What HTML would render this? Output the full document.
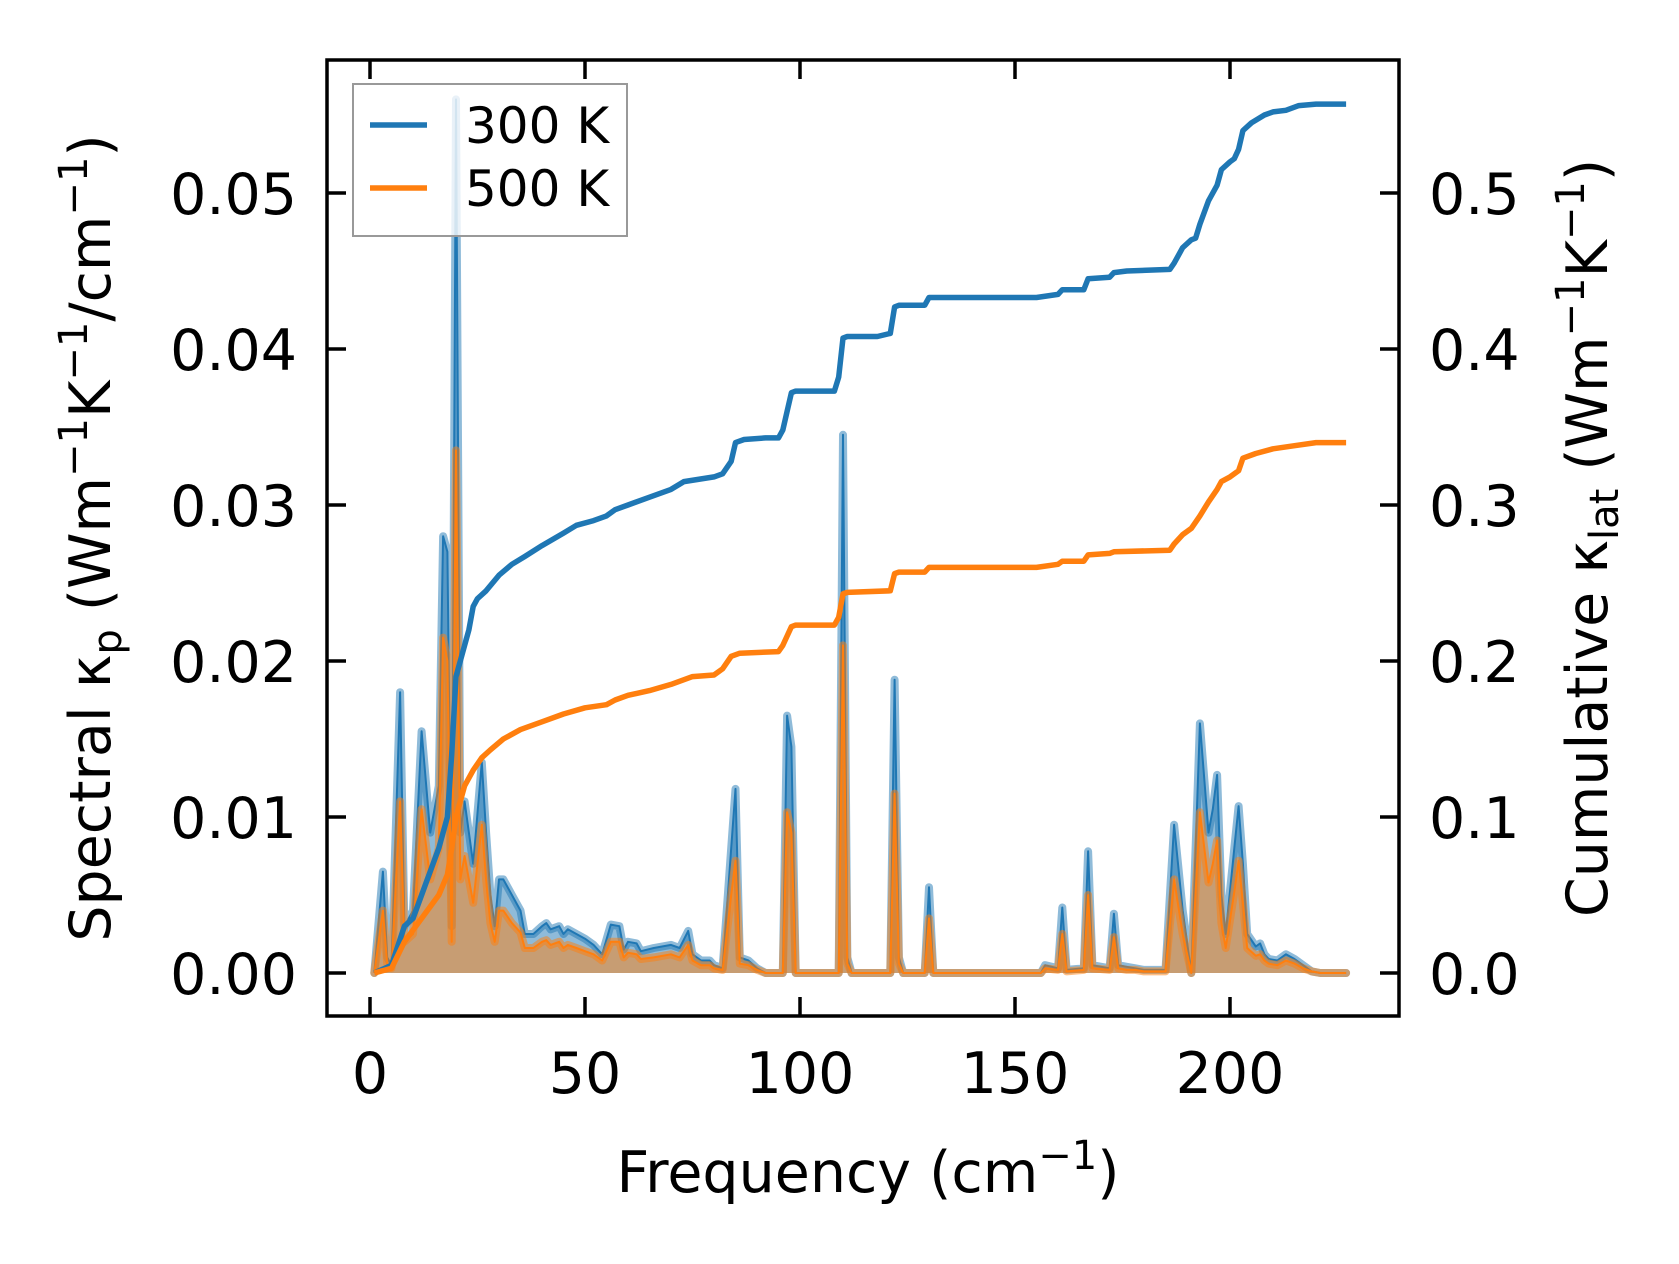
<!DOCTYPE html>
<html><head><meta charset="utf-8"><style>
html,body{margin:0;padding:0;background:#fff;}
svg{display:block;font-family:"DejaVu Sans","Liberation Sans",sans-serif;}
</style></head><body>
<svg id="chart" width="1679" height="1264" viewBox="0 0 1679 1264" xmlns="http://www.w3.org/2000/svg"></svg>
<script>
const specFreq300 = [1,3,4,5,7,8,10,12,14,16,17,18,19,20,21,22,23,24,26,27,28,29,30,31,33,35,36,38,40,41,42,44,45,46,48,50,52,54,56,58,59,60,62,63,66,70,72,74,75,77,79,80,82,84,85,86,88,90,92,96,97,98,99,109,110,111,112,121,122,123,124,129,130,131,156,157,160,161,162,166,167,168,172,173,174,176,178,180,185,187,189,191,193,195,196,197,198,199,201,202,203,204,206,207,208,209,211,213,215,217,219,221,227];
const spec300 = [0,0.0065,0.001,0.0005,0.018,0.003,0.004,0.0155,0.009,0.012,0.028,0.027,0.003,0.056,0.009,0.011,0.009,0.007,0.0135,0.009,0.005,0.003,0.006,0.006,0.005,0.004,0.0025,0.0025,0.003,0.0032,0.0028,0.003,0.0025,0.0028,0.0025,0.0022,0.0018,0.0012,0.0031,0.003,0.0015,0.002,0.0019,0.0014,0.0016,0.0018,0.0016,0.0027,0.0012,0.0008,0.0008,0.0005,0.0003,0.008,0.0118,0.001,0.0008,0.0003,0,0,0.0165,0.0145,0,0,0.0345,0.001,0,0,0.0188,0.001,0,0,0.0055,0,0,0.0005,0.0003,0.0042,0.0002,0.0003,0.0078,0.0005,0.0003,0.0038,0.0005,0.0004,0.0003,0.0002,0.0002,0.0095,0.004,0,0.016,0.009,0.0105,0.0127,0.005,0.0025,0.008,0.0107,0.007,0.0025,0.0017,0.0019,0.0012,0.0009,0.0008,0.0012,0.0009,0.0005,0.0001,0,0];
const spec500 = [0,0.004,0.0006,0.0003,0.011,0.002,0.0025,0.0105,0.006,0.008,0.0215,0.02,0.002,0.0335,0.006,0.0075,0.006,0.0045,0.0095,0.006,0.0032,0.002,0.004,0.004,0.0032,0.0026,0.0016,0.0016,0.002,0.0021,0.0018,0.002,0.0016,0.0018,0.0016,0.0014,0.0012,0.0008,0.002,0.002,0.001,0.0013,0.0012,0.0009,0.001,0.0012,0.001,0.0018,0.0008,0.0005,0.0005,0.0003,0.0002,0.005,0.0072,0.0006,0.0005,0.0002,0,0,0.0103,0.009,0,0,0.021,0.0006,0,0,0.0115,0.0006,0,0,0.0035,0,0,0.0003,0.0002,0.0025,0.0001,0.0002,0.005,0.0003,0.0002,0.0023,0.0003,0.0002,0.0002,0.0001,0.0001,0.006,0.0025,0,0.0103,0.0058,0.007,0.0085,0.0032,0.0016,0.0052,0.0072,0.0045,0.0016,0.0011,0.0012,0.0008,0.0006,0.0005,0.0008,0.0006,0.0003,0.0001,0,0];
const cumFreq300 = [1,5,8,10,12,14,16,18,19,20,21,22,23,24,25,27,30,33,36,40,45,48,52,55,57,60,65,70,73,80,82,84,85,87,92,95,96,97,98,99,108,109,110,111,118,121,122,123,129,130,155,160,161,166,167,172,173,176,186,187,189,191,192,193,195,197,198,200,201,202,203,205,208,210,213,216,220,227];
const cum300 = [0,0.005,0.03,0.035,0.05,0.065,0.08,0.1,0.14,0.19,0.2,0.21,0.22,0.235,0.24,0.245,0.255,0.262,0.267,0.274,0.282,0.287,0.29,0.293,0.297,0.3,0.305,0.31,0.315,0.318,0.32,0.328,0.34,0.342,0.343,0.343,0.348,0.36,0.372,0.373,0.373,0.382,0.407,0.408,0.408,0.41,0.427,0.428,0.428,0.433,0.433,0.435,0.438,0.438,0.445,0.446,0.449,0.45,0.451,0.455,0.465,0.47,0.471,0.48,0.495,0.505,0.515,0.52,0.522,0.528,0.54,0.545,0.55,0.552,0.553,0.556,0.557,0.557];
const cumFreq500 = [1,5,8,12,16,18,19,20,22,24,26,28,31,35,40,45,50,55,57,60,65,70,75,80,82,84,86,95,96,98,99,108,109,110,111,121,122,123,129,130,155,160,161,166,167,172,173,186,187,189,191,193,195,197,198,200,202,203,206,210,215,220,227];
const cum500 = [0,0.003,0.02,0.035,0.05,0.063,0.08,0.1,0.12,0.13,0.138,0.143,0.15,0.156,0.161,0.166,0.17,0.172,0.175,0.178,0.181,0.185,0.19,0.191,0.195,0.203,0.205,0.206,0.21,0.222,0.223,0.223,0.228,0.243,0.244,0.245,0.256,0.257,0.257,0.26,0.26,0.262,0.264,0.264,0.268,0.269,0.27,0.271,0.275,0.281,0.285,0.293,0.302,0.31,0.315,0.318,0.322,0.33,0.333,0.336,0.338,0.34,0.34];
const xTicks = [0,50,100,150,200];
const yTicks = [0,0.01,0.02,0.03,0.04,0.05];
const yTickLabels = ["0.00","0.01","0.02","0.03","0.04","0.05"];
const y2Ticks = [0,0.1,0.2,0.3,0.4,0.5];
const y2TickLabels = ["0.0","0.1","0.2","0.3","0.4","0.5"];

const L=327,R=1399,T=60,B=1016;
const X0=370, XS=4.3, Y0=973, YS=15600;
const xs=v=>X0+v*XS, ys=v=>Y0-v*YS, ys2=v=>Y0-v*YS/10;
const svg=document.getElementById('chart');
const NS='http://www.w3.org/2000/svg';
function mk(tag,attrs,parent){const e=document.createElementNS(NS,tag);for(const k in attrs)e.setAttribute(k,attrs[k]);(parent||svg).appendChild(e);return e;}

const clip=mk('clipPath',{id:'plotclip'});mk('rect',{x:L,y:T,width:R-L,height:B-T},clip);
const plot=mk('g',{'clip-path':'url(#plotclip)'});



function linePts(fx,fy,sx,sy){return fx.map((f,i)=>sx(f).toFixed(1)+','+sy(fy[i]).toFixed(1)).join(' ');}
function spectral(vals,color,name){
  const pts=linePts(specFreq300,vals,xs,ys);
  const area=mk('polygon',{points:xs(specFreq300[0])+','+ys(0)+' '+pts+' '+xs(specFreq300[specFreq300.length-1])+','+ys(0),fill:color,'fill-opacity':0.5,stroke:'none'},plot);
  
  
  const halo=mk('polyline',{points:pts,fill:'none',stroke:color,'stroke-opacity':0.5,'stroke-width':8,'stroke-linejoin':'round','stroke-linecap':'round'},plot);
  
  
  const ln=mk('polyline',{points:pts,fill:'none',stroke:color,'stroke-width':2,'stroke-linejoin':'round'},plot);
  
  
}
spectral(spec300,'#1f77b4','spectral-300k');
spectral(spec500,'#ff7f0e','spectral-500k');
const c3=mk('polyline',{points:linePts(cumFreq300,cum300,xs,ys2),fill:'none',stroke:'#1f77b4','stroke-width':5.5,'stroke-linejoin':'round'},plot);


const c5=mk('polyline',{points:linePts(cumFreq500,cum500,xs,ys2),fill:'none',stroke:'#ff7f0e','stroke-width':5.5,'stroke-linejoin':'round'},plot);



const ax=mk('g',{stroke:'#000','stroke-width':3.5});


mk('rect',{x:L,y:T,width:R-L,height:B-T,fill:'none'},ax);
const TL=19;
xTicks.forEach(v=>{
  mk('line',{x1:xs(v),x2:xs(v),y1:B,y2:B-TL},ax);
  mk('line',{x1:xs(v),x2:xs(v),y1:T,y2:T+TL},ax);
  const t=mk('text',{x:xs(v),y:B+77,'font-size':57,'text-anchor':'middle'});t.textContent=v;
  
  
});
yTicks.forEach((v,i)=>{
  mk('line',{x1:L,x2:L+TL,y1:ys(v),y2:ys(v)},ax);
  const t=mk('text',{x:L-30,y:ys(v)+21,'font-size':57,'text-anchor':'end'});t.textContent=yTickLabels[i];
  
  
});
y2Ticks.forEach((v,i)=>{
  mk('line',{x1:R,x2:R-TL,y1:ys2(v),y2:ys2(v)},ax);
  const t=mk('text',{x:R+30,y:ys2(v)+21,'font-size':57,'text-anchor':'start'});t.textContent=y2TickLabels[i];
  
  
});
</script>
<svg style="position:absolute;left:0;top:0" width="1679" height="1264">
  <g font-family="DejaVu Sans, Liberation Sans, sans-serif" font-size="57" fill="#000">
    <text x="868" y="1192" text-anchor="middle">Frequency (cm<tspan font-size="40" dy="-23">−1</tspan><tspan dy="23">)</tspan></text>
    <text transform="translate(110,538) rotate(-90)" text-anchor="middle">Spectral κ<tspan font-size="40" dy="11">p</tspan><tspan dy="-11"> (Wm</tspan><tspan font-size="40" dy="-23">−1</tspan><tspan dy="23">K</tspan><tspan font-size="40" dy="-23">−1</tspan><tspan dy="23">/cm</tspan><tspan font-size="40" dy="-23">−1</tspan><tspan dy="23">)</tspan></text>
    <text transform="translate(1607,538) rotate(-90)" text-anchor="middle">Cumulative κ<tspan font-size="40" dy="11">lat</tspan><tspan dy="-11"> (Wm</tspan><tspan font-size="40" dy="-23">−1</tspan><tspan dy="23">K</tspan><tspan font-size="40" dy="-23">−1</tspan><tspan dy="23">)</tspan></text>
  </g>
  <g>
    <rect x="353" y="84" width="274" height="152" fill="#fff" fill-opacity="0.8" stroke="#999" stroke-width="2"/>
    <line x1="370" x2="427" y1="125" y2="125" stroke="#1f77b4" stroke-width="5.5"/>
    <line x1="370" x2="427" y1="188" y2="188" stroke="#ff7f0e" stroke-width="5.5"/>
    <text x="465" y="143" font-size="50" font-family="DejaVu Sans, Liberation Sans, sans-serif">300 K</text>
    <text x="465" y="206" font-size="50" font-family="DejaVu Sans, Liberation Sans, sans-serif">500 K</text>
  </g>
</svg>
</body></html>
